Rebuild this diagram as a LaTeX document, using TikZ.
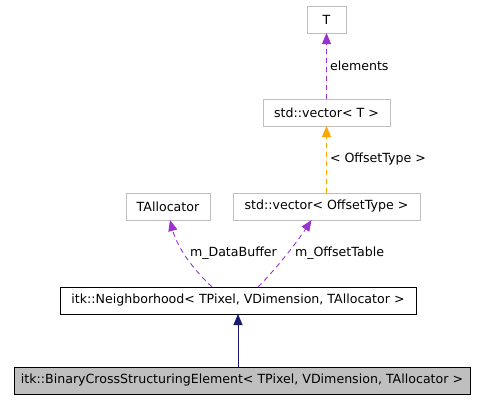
\documentclass[tikz,border=0pt]{standalone}
\usepackage{fontspec}
\setmainfont{DejaVu Sans}
\usetikzlibrary{arrows.meta}
\definecolor{boxgray}{HTML}{BFBFBF}
\definecolor{purp}{HTML}{9A32CD}
\definecolor{orng}{HTML}{FFA500}
\definecolor{navy}{HTML}{191970}
\begin{document}
\begin{tikzpicture}[x=1pt,y=-1pt,
  every node/.style={font=\fontsize{12.6}{14}\selectfont, inner sep=0pt, outer sep=0pt},
  ext/.style={draw=boxgray, line width=0.9pt, minimum height=27pt},
  main/.style={draw=black, line width=0.9pt, minimum height=27pt},
  hl/.style={draw=black, fill=boxgray, line width=0.9pt, minimum height=27pt},
  usearrow/.style={dashed, dash pattern=on 5pt off 4pt, line width=0.9pt, -{Triangle[length=11pt,width=9pt]}},
  inharrow/.style={line width=0.9pt, draw=navy, -{Triangle[length=11pt,width=9pt,fill=navy]}},
  lbl/.style={anchor=west}
]
\useasboundingbox (0,0) rectangle (477,400);
\node[ext, minimum width=39pt] (t) at (326.5,19.5) {T};
\node[ext, minimum width=127pt] (vt) at (326.5,112.5) {std::vector< T >};
\node[ext, minimum width=84pt] (ta) at (168,206.5) {TAllocator};
\node[ext, minimum width=187pt] (vo) at (326.5,206.5) {std::vector< OffsetType >};
\node[main, minimum width=356pt] (nb) at (238,300.5) {itk::Neighborhood< TPixel, VDimension, TAllocator >};
\node[hl, minimum width=456pt] (bc) at (242,380.5) {itk::BinaryCrossStructuringElement< TPixel, VDimension, TAllocator >};

\draw[usearrow, draw=purp, fill=purp] (vt.north) -- (t.south);
\node[lbl] (le) at (330,66) {elements};
\draw[usearrow, draw=orng, fill=orng] (vo.north) -- (vt.south);
\node[lbl] (lo) at (330,159) {< OffsetType >};
\draw[usearrow, draw=purp] ([xshift=-26pt]nb.north) .. controls (196,272) and (178,250) .. ([xshift=2pt]ta.south);
\node[lbl] (ld) at (190,253) {m\_DataBuffer};
\draw[usearrow, draw=purp] ([xshift=20pt]nb.north) .. controls (275,270) and (295,245) .. ([xshift=-15pt]vo.south);
\node[lbl] (lt) at (295,253) {m\_OffsetTable};
\draw[inharrow] (bc.north -| nb.south) -- (nb.south);
\end{tikzpicture}
\end{document}
